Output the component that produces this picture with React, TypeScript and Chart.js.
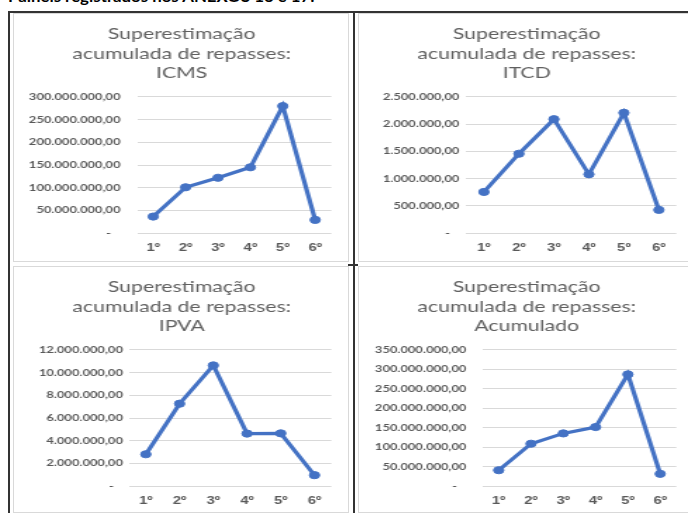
import React, { useEffect, useRef } from 'react';
import { Chart, registerables } from 'chart.js';

Chart.register(...registerables);

const categories = ['1º', '2º', '3º', '4º', '5º', '6º'];

const icmsValues = [36600000, 101000000, 122000000, 145000000, 279600000, 29300000];
const itcdValues = [756000, 1457000, 2090000, 1080000, 2207000, 427000];
const ipvaValues = [2810000, 7260000, 10630000, 4630000, 4650000, 970000];
const acumuladoValues = [41000000, 109000000, 135500000, 151800000, 287000000, 31700000];

const icmsTitle = ['Superestimação', 'acumulada de repasses:', 'ICMS'];
const itcdTitle = ['Superestimação', 'acumulada de repasses:', 'ITCD'];
const ipvaTitle = ['Superestimação', 'acumulada de repasses:', 'IPVA'];
const acumuladoTitle = ['Superestimação', 'acumulada de repasses:', 'Acumulado'];

const icmsAxis = [0, 300000000, 50000000];
const itcdAxis = [0, 2500000, 500000];
const ipvaAxis = [0, 12000000, 2000000];
const acumuladoAxis = [0, 350000000, 50000000];

const headerText = 'Painéis registrados nos ANEXOS 16 e 17:';

const S = 1.4; // horizontal stretch of the reference picture
const GRAY = '#595959';
const BLUE = '#4472C4';

function fmt(v: number): string {
  if (v === 0) return '-   ';
  const s = v.toFixed(2);
  const [i, d] = s.split('.');
  return i.replace(/\B(?=(\d{3})+(?!\d))/g, '.') + ',' + d;
}

type CellProps = {
  left: number;
  top: number;
  width: number;
  height: number;
  title: string[];
  values: number[];
  axis: number[];
  plotLeft: number;
  gap: number;
};

function ChartCell({ left, top, width, height, title, values, axis, plotLeft, gap }: CellProps) {
  const ref = useRef<HTMLCanvasElement | null>(null);
  const innerW = width - 2;
  const innerH = height - 2;
  const plotRight = 316;
  const plotBottom = 219.2;

  useEffect(() => {
    if (!ref.current) return;
    const chart = new Chart(ref.current, {
      type: 'line',
      data: {
        labels: categories,
        datasets: [
          {
            data: values,
            borderColor: BLUE,
            backgroundColor: BLUE,
            borderWidth: 3.2,
            pointRadius: 3.6,
            pointBorderWidth: 1,
            pointBackgroundColor: BLUE,
            pointBorderColor: BLUE,
            tension: 0,
          },
        ],
      },
      options: {
        animation: false,
        responsive: true,
        maintainAspectRatio: false,
        layout: { padding: 0 },
        plugins: {
          legend: { display: false },
          tooltip: { enabled: false },
          title: {
            display: true,
            text: title,
            color: '#606060',
            font: { family: 'Lato', size: 15.1, weight: 'normal', lineHeight: 1.31 },
            padding: { top: 10, bottom: 13.5 },
          },
        },
        scales: {
          x: {
            type: 'category',
            offset: true,
            grid: { display: false, drawTicks: false },
            border: { display: false },
            ticks: {
              color: GRAY,
              font: { family: 'Liberation Sans', size: 10.5, weight: 'bold' },
              padding: 9,
              maxRotation: 0,
              autoSkip: false,
            },
            afterFit: (sc: any) => {
              sc.height = innerH - plotBottom;
            },
          },
          y: {
            min: axis[0],
            max: axis[1],
            grid: { color: '#d9d9d9', lineWidth: 1, drawTicks: false },
            border: { display: false },
            ticks: {
              stepSize: axis[2],
              color: GRAY,
              font: { family: 'Lato', size: 9.2, weight: 'bold' },
              padding: gap / S,
              callback: (v: any) => fmt(Number(v)),
            },
            afterFit: (sc: any) => {
              sc.width = plotLeft / S;
            },
          },
          spacer: {
            type: 'linear',
            position: 'right',
            display: true,
            grid: { display: false, drawTicks: false },
            border: { display: false },
            ticks: { display: false },
            afterFit: (sc: any) => {
              sc.width = (innerW - plotRight) / S;
            },
          },
        },
      },
    });
    return () => chart.destroy();
  }, []);

  return (
    <div
      style={{
        position: 'absolute',
        left,
        top,
        width,
        height,
        boxSizing: 'border-box',
        border: '1px solid #d9d9d9',
        background: '#fff',
        overflow: 'hidden',
      }}
    >
      <div
        style={{
          position: 'absolute',
          left: 0,
          top: 0,
          width: innerW / S,
          height: innerH,
          transform: `scaleX(${S})`,
          transformOrigin: '0 0',
        }}
      >
        <canvas ref={ref} />
      </div>
    </div>
  );
}

export default function App() {
  return (
    <div
      style={{
        position: 'fixed',
        left: 0,
        top: 0,
        width: 688,
        height: 513,
        overflow: 'hidden',
        background: '#fff',
      }}
    >
      <div
        style={{
          position: 'absolute',
          left: 8,
          top: -11.5,
          fontFamily: 'Lato',
          fontWeight: 'bold',
          fontSize: 15,
          lineHeight: '15px',
          color: '#000',
          whiteSpace: 'nowrap',
          transform: 'scaleX(1.12)',
          transformOrigin: '0 0',
        }}
      >
        {headerText}
      </div>
      <ChartCell left={13} top={13} width={336} height={249} title={icmsTitle} values={icmsValues} axis={icmsAxis} plotLeft={122.5} gap={16.5} />
      <ChartCell left={358} top={13} width={336} height={249} title={itcdTitle} values={itcdValues} axis={itcdAxis} plotLeft={107} gap={7} />
      <ChartCell left={13} top={266} width={336} height={247} title={ipvaTitle} values={ipvaValues} axis={ipvaAxis} plotLeft={114.5} gap={6} />
      <ChartCell left={358} top={266} width={336} height={247} title={acumuladoTitle} values={acumuladoValues} axis={acumuladoAxis} plotLeft={123} gap={16} />
      <div style={{ position: 'absolute', left: 8, top: 11, width: 680, height: 2, background: '#333' }} />
      <div style={{ position: 'absolute', left: 8, top: 11, width: 2, height: 502, background: '#333' }} />
      <div style={{ position: 'absolute', left: 353, top: 11, width: 2, height: 502, background: '#333' }} />
      <div style={{ position: 'absolute', left: 348, top: 264, width: 10, height: 2, background: '#333' }} />
    </div>
  );
}
